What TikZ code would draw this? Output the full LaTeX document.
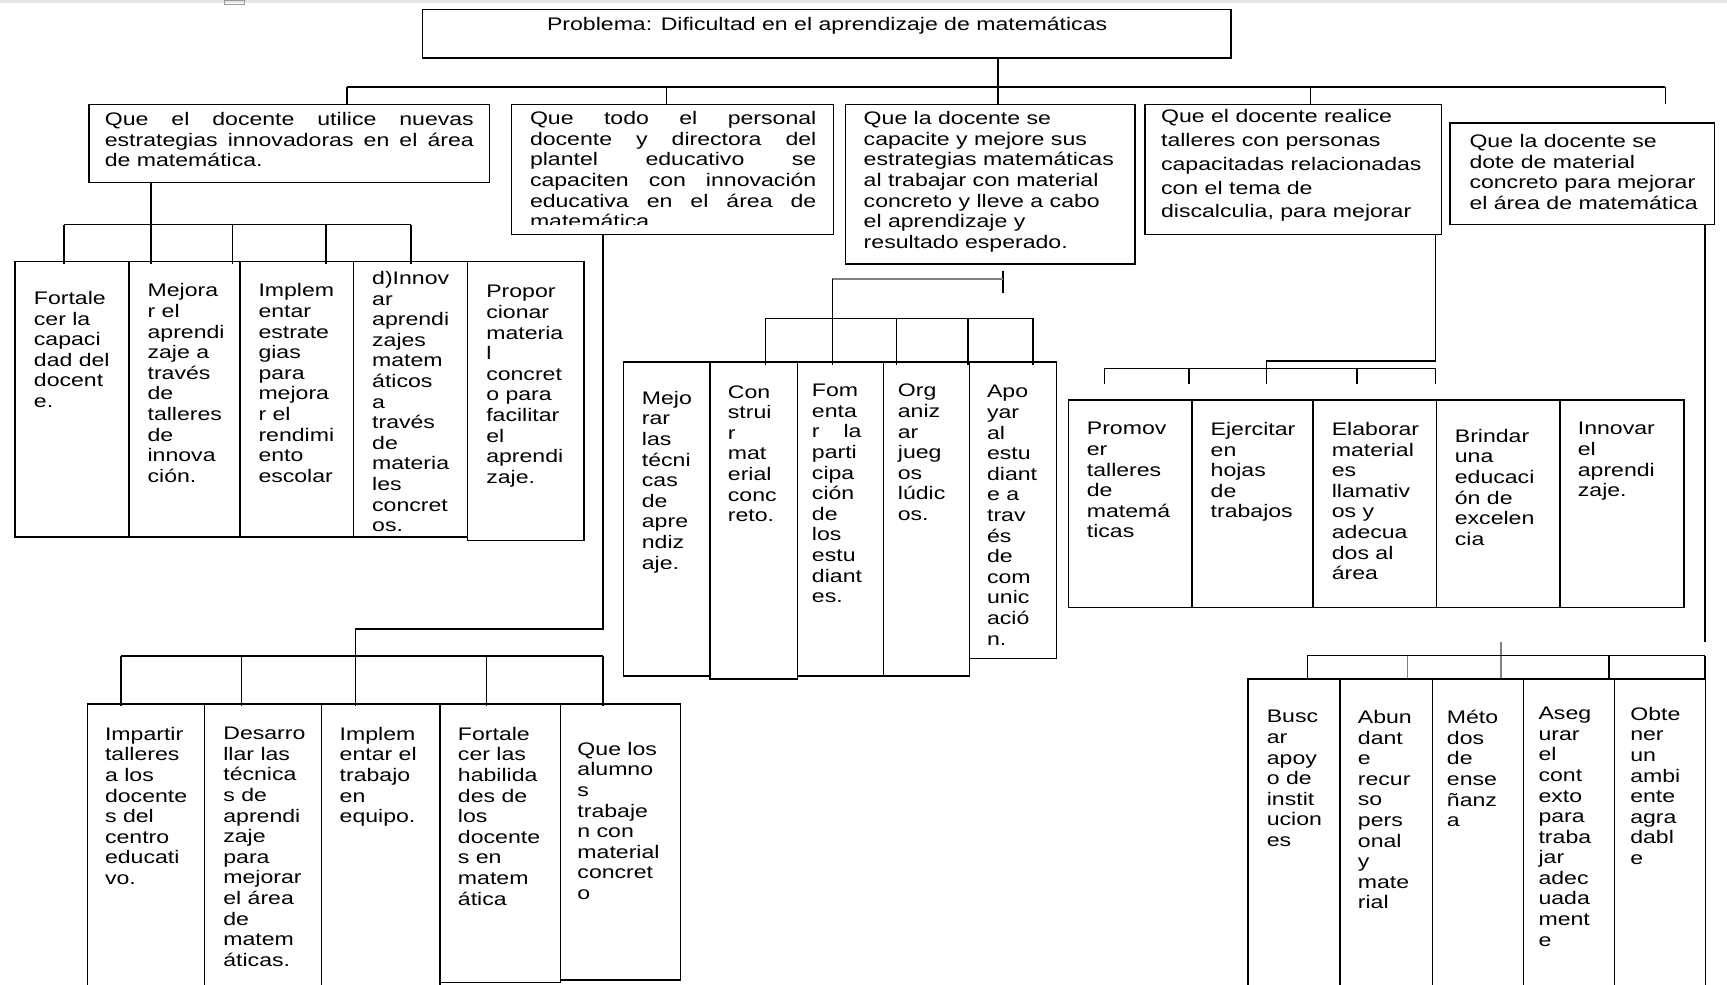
\documentclass[tikz,border=0pt]{standalone}
\usepackage{fontspec}
\setmainfont[FakeStretch=1.27]{Liberation Sans}
\hyphenpenalty=10000
\exhyphenpenalty=10000

\tikzstyle{caja} = [draw, line width=1.3pt, anchor=north west, inner sep=0pt]
\tikzstyle{texto} = [anchor=north west, yshift=13pt, align=left, inner sep=0pt, execute at begin node={\rule{0pt}{13pt}}, font=\fontsize{16.5pt}{18.7pt}\selectfont]
\tikzstyle{titulo} = [anchor=base, inner sep=0pt, font=\fontsize{16.5pt}{18.7pt}\selectfont]
\tikzstyle{linea} = [line width=1.3pt]
\tikzstyle{gris} = [line width=1.5pt, black!50]

\begin{document}
\begin{tikzpicture}[x=1pt,y=-1pt]
      \useasboundingbox (0,0) rectangle (1568,894);
      \clip (0,0) rectangle (1568,894);
      % barra superior
      \fill[black!10] (0,0) rectangle (1568,3);
      \draw[black!40, line width=0.8pt] (204,0) rectangle (222,4);

      % problema
      \node[caja, minimum width=734pt, minimum height=44pt] (problema) at (383,8) {};
      \node[titulo] (tproblema) at (751,28) {Problema: Dificultad en el aprendizaje de matemáticas};

      % primer nivel
      \node[caja, minimum width=364pt, minimum height=71pt] (c1) at (80,94) {};
      \node[caja, minimum width=292pt, minimum height=118pt] (c2) at (464,94) {};
      \node[caja, minimum width=263pt, minimum height=145pt] (c3) at (767,94) {};
      \node[caja, minimum width=269pt, minimum height=118pt] (c4) at (1039,94) {};
      \node[caja, minimum width=240pt, minimum height=92pt] (c5) at (1316,111) {};
      \node[texto] (t1) at (95,115) {\makebox[335pt][s]{Que el docente utilice nuevas}\\\makebox[335pt][s]{estrategias innovadoras en el área}\\de matemática.};
      \begin{scope}
      \clip (464,94) rectangle (756,204);
      \node[texto] (t2) at (481,114) {\makebox[260pt][s]{Que todo el personal}\\\makebox[260pt][s]{docente y directora del}\\\makebox[260pt][s]{plantel educativo se}\\\makebox[260pt][s]{capaciten con innovación}\\\makebox[260pt][s]{educativa en el área de}\\matemática};
      \end{scope}
      \node[texto] (t3) at (784,114) {Que la docente se\\capacite y mejore sus\\estrategias matemáticas\\al trabajar con material\\concreto y lleve a cabo\\el aprendizaje y\\resultado esperado.};
      \node[texto, font=\fontsize{16.5pt}{21.5pt}\selectfont] (t4) at (1054,112.5) {Que el docente realice\\talleres con personas\\capacitadas relacionadas\\con el tema de\\discalculia, para mejorar};
      \node[texto] (t5) at (1334,135) {Que la docente se\\dote de material\\concreto para mejorar\\el área de matemática};

      \coordinate (p0) at (906,79);
      \coordinate (p1) at (315,79);
      \coordinate (p2) at (605,79);
      \coordinate (p4) at (1190,79);
      \coordinate (p5) at (1512,79);
      \draw[linea] (problema.south -| p0) -- (p0);
      \draw[linea] (p1) -- (p5);
      \draw[linea] (p1) -- (p1 |- c1.north);
      \draw[linea] (p2) -- (p2 |- c2.north);
      \draw[linea] (p0) -- (p0 |- c3.north);
      \draw[linea] (p4) -- (p4 |- c4.north);
      \draw[linea] (p5) -- (1512,94);

      % grupo 1
      \node[caja, minimum width=103.5pt, minimum height=250pt] (f1) at (13,237) {};
      \node[caja, minimum width=100.7pt, minimum height=250pt] (f2) at (116.5,237) {};
      \node[caja, minimum width=103.2pt, minimum height=250pt] (f3) at (217.2,237) {};
      \node[caja, minimum width=103.5pt, minimum height=250pt] (f4) at (320.4,237) {};
      \node[caja, minimum width=105.7pt, minimum height=253pt] (f5) at (423.9,237) {};
      \node[texto] (tf1) at (30.6,277.4) {Fortale\\cer la\\capaci\\dad del\\docent\\e.};
      \node[texto] (tf2) at (133.8,270.4) {Mejora\\r el\\aprendi\\zaje a\\través\\de\\talleres\\de\\innova\\ción.};
      \node[texto] (tf3) at (234.5,270.4) {Implem\\entar\\estrate\\gias\\para\\mejora\\r el\\rendimi\\ento\\escolar};
      \node[texto] (tf4) at (337.7,259.2) {d)Innov\\ar\\aprendi\\zajes\\matem\\áticos\\a\\través\\de\\materia\\les\\concret\\os.};
      \node[texto] (tf5) at (441.3,272) {Propor\\cionar\\materia\\l\\concret\\o para\\facilitar\\el\\aprendi\\zaje.};
      \coordinate (q0) at (137,204);
      \coordinate (q1) at (58,204);
      \coordinate (q3) at (211,204);
      \coordinate (q4) at (296,204);
      \coordinate (q5) at (373,204);
      \draw[linea] (c1.south -| q0) -- (q0);
      \draw[linea] (q1) -- (q5);
      \draw[linea] (q1) -- (58,240);
      \draw[linea] (q0) -- (137,240);
      \draw[linea] (q3) -- (211,240);
      \draw[linea] (q4) -- (296,240);
      \draw[linea] (q5) -- (373,240);

      % grupo 2
      \node[caja, minimum width=106pt, minimum height=270pt] (g1) at (79,638.5) {};
      \node[caja, minimum width=106pt, minimum height=270pt] (g2) at (185,638.5) {};
      \node[caja, minimum width=108pt, minimum height=270pt] (g3) at (291,638.5) {};
      \node[caja, minimum width=109pt, minimum height=252.8pt] (g4) at (399,638.5) {};
      \node[caja, minimum width=109pt, minimum height=250.7pt] (g5) at (508,638.5) {};
      \node[texto] (tg1) at (95.2,673) {Impartir\\talleres\\a los\\docente\\s del\\centro\\educati\\vo.};
      \node[texto] (tg2) at (202.6,673) {Desarro\\llar las\\técnica\\s de\\aprendi\\zaje\\para\\mejorar\\el área\\de\\matem\\áticas.};
      \node[texto] (tg3) at (308.2,673) {Implem\\entar el\\trabajo\\en\\equipo.};
      \node[texto] (tg4) at (415.6,673) {Fortale\\cer las\\habilida\\des de\\los\\docente\\s en\\matem\\ática};
      \node[texto] (tg5) at (524.1,686.6) {Que los\\alumno\\s\\trabaje\\n con\\material\\concret\\o};
      \coordinate (r0) at (547.5,571);
      \coordinate (r1) at (323,571);
      \coordinate (r2) at (110,595.5);
      \coordinate (r3) at (219.3,595.5);
      \coordinate (r4) at (441.5,595.5);
      \coordinate (r5) at (547.5,595.5);
      \draw[linea] (c2.south -| r0) -- (r0) -- (r1) -- (323,641);
      \draw[linea] (r2) -- (r5);
      \draw[linea] (r2) -- (110,641);
      \draw[linea] (r3) -- (219.3,641);
      \draw[linea] (r4) -- (441.5,641);
      \draw[linea] (r5) -- (547.5,641);

      % grupo 3
      \node[caja, minimum width=78.6pt, minimum height=285pt] (h1) at (565.4,328) {};
      \node[caja, minimum width=79.3pt, minimum height=288pt] (h2) at (644,328) {};
      \node[caja, minimum width=78.1pt, minimum height=285pt] (h3) at (723.3,328) {};
      \node[caja, minimum width=78.4pt, minimum height=285pt] (h4) at (801.4,328) {};
      \node[caja, minimum width=78.7pt, minimum height=269pt] (h5) at (879.8,328) {};
      \node[texto] (th1) at (582.6,368) {Mejo\\rar\\las\\técni\\cas\\de\\apre\\ndiz\\aje.};
      \node[texto] (th2) at (660.7,362.7) {Con\\strui\\r\\mat\\erial\\conc\\reto.};
      \node[texto] (th3) at (737,361.7) {Fom\\enta\\\makebox[45pt][s]{r la}\\parti\\cipa\\ción\\de\\los\\estu\\diant\\es.};
      \node[texto] (th4) at (815,361.7) {Org\\aniz\\ar\\jueg\\os\\lúdic\\os.};
      \node[texto] (th5) at (896,362.7) {Apo\\yar\\al\\estu\\diant\\e a\\trav\\és\\de\\com\\unic\\ació\\n.};
      \coordinate (s0) at (910.7,246);
      \coordinate (s1) at (910.7,266);
      \coordinate (s2) at (910.7,253.6);
      \coordinate (s3) at (755.7,253.6);
      \coordinate (s4) at (695,289);
      \coordinate (s5) at (814,289);
      \coordinate (s6) at (879,289);
      \coordinate (s7) at (938,289);
      \draw[linea] (s0) -- (s1);
      \draw[gris] (s2) -- (s3);
      \draw[linea] (s3) -- (755.7,331);
      \draw[linea] (s4) -- (s7);
      \draw[linea] (s4) -- (695,331);
      \draw[linea] (s5) -- (814,331);
      \draw[linea] (s6) -- (879,331);
      \draw[linea] (s7) -- (938,331);

      % grupo 4
      \node[caja, minimum width=112.2pt, minimum height=188.2pt] (k1) at (969.3,362.6) {};
      \node[caja, minimum width=109.8pt, minimum height=188.2pt] (k2) at (1081.5,362.6) {};
      \node[caja, minimum width=112.1pt, minimum height=188.2pt] (k3) at (1191.3,362.6) {};
      \node[caja, minimum width=112.5pt, minimum height=188.2pt] (k4) at (1303.4,362.6) {};
      \node[caja, minimum width=112.5pt, minimum height=188.2pt] (k5) at (1415.9,362.6) {};
      \node[texto] (tk1) at (986.6,396.3) {Promov\\er\\talleres\\de\\matemá\\ticas};
      \node[texto] (tk2) at (1099,396.3) {Ejercitar\\en\\hojas\\de\\trabajos};
      \node[texto] (tk3) at (1209,396.3) {Elaborar\\material\\es\\llamativ\\os y\\adecua\\dos al\\área};
      \node[texto] (tk4) at (1320.7,402.4) {Brindar\\una\\educaci\\ón de\\excelen\\cia};
      \node[texto] (tk5) at (1432.4,396.3) {Innovar\\el\\aprendi\\zaje.};
      \coordinate (u0) at (1303.4,327.8);
      \coordinate (u1) at (1150,327.8);
      \coordinate (u2) at (1003,334.4);
      \coordinate (u3) at (1079.6,334.4);
      \coordinate (u4) at (1232,334.4);
      \coordinate (u5) at (1303.4,334.4);
      \draw[linea] (c4.south -| u0) -- (u0) -- (u1) -- (1150,348.6);
      \draw[linea] (u2) -- (u5);
      \draw[linea] (u2) -- (1003,348.6);
      \draw[linea] (u3) -- (1079.6,348.6);
      \draw[linea] (u4) -- (1232,348.6);
      \draw[linea] (u5) -- (1303.4,348.6);

      % grupo 5
      \node[caja, minimum width=83.4pt, minimum height=300pt] (m1) at (1132.6,616) {};
      \node[caja, minimum width=84pt, minimum height=300pt] (m2) at (1216,616) {};
      \node[caja, minimum width=82.4pt, minimum height=300pt] (m3) at (1300,616) {};
      \node[caja, minimum width=82.6pt, minimum height=300pt] (m4) at (1382.4,616) {};
      \node[caja, minimum width=83pt, minimum height=300pt] (m5) at (1465,616) {};
      \node[texto] (tm1) at (1150,657.8) {Busc\\ar\\apoy\\o de\\instit\\ucion\\es};
      \node[texto] (tm2) at (1232.7,657.8) {Abun\\dant\\e\\recur\\so\\pers\\onal\\y\\mate\\rial};
      \node[texto] (tm3) at (1313.5,657.8) {Méto\\dos\\de\\ense\\ñanz\\a};
      \node[texto] (tm4) at (1396.7,654.8) {Aseg\\urar\\el\\cont\\exto\\para\\traba\\jar\\adec\\uada\\ment\\e};
      \node[texto] (tm5) at (1480,654.8) {Obte\\ner\\un\\ambi\\ente\\agra\\dabl\\e};
      \coordinate (v0) at (1548,583);
      \coordinate (v1) at (1187,595.3);
      \coordinate (v2) at (1278,595.3);
      \coordinate (v3) at (1461,595.3);
      \coordinate (v4) at (1548,595.3);
      \draw[linea] (c5.south -| v0) -- (v0);
      \draw[gris] (1363,583) -- (1363,616);
      \draw[linea] (v1) -- (v4);
      \draw[linea] (v1) -- (v1 |- m1.north);
      \draw[gris] (v2) -- (v2 |- m2.north);
      \draw[linea] (v3) -- (v3 |- m4.north);
      \draw[linea] (v4) -- (v4 |- m5.north);
    \end{tikzpicture}
\end{document}
